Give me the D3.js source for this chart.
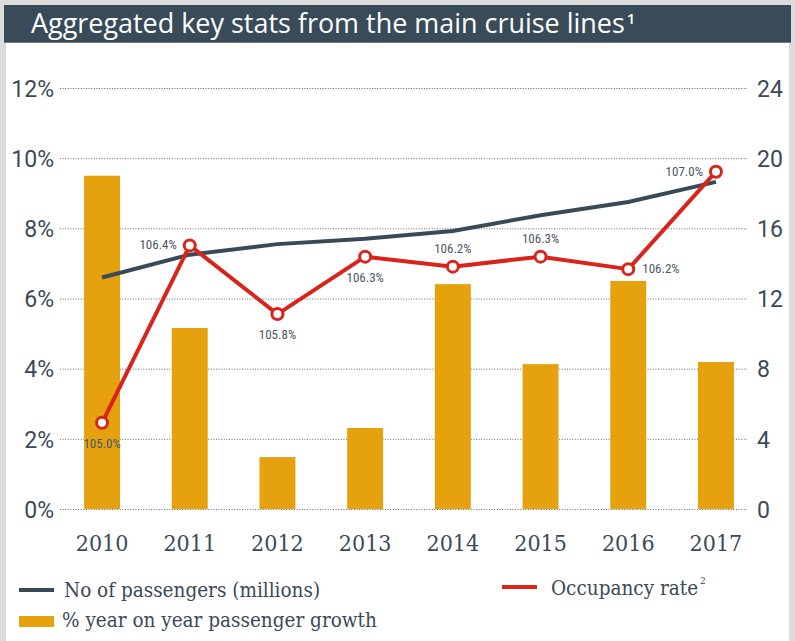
<!DOCTYPE html>
<html>
<head>
<meta charset="utf-8">
<script src="https://cdn.jsdelivr.net/npm/d3@7"></script>
<style>
  html, body { margin: 0; padding: 0; background: #dcdcdc; }
  svg { display: block; }
  .tick line { stroke: none; }
</style>
</head>
<body>
<svg id="chart" width="795" height="641"></svg>
<script>
// ---- Data ----
const years = ["2010", "2011", "2012", "2013", "2014", "2015", "2016", "2017"];
const growthPct = [9.5, 5.16, 1.48, 2.31, 6.41, 4.13, 6.5, 4.19];            // % year on year passenger growth (left axis)
const passengersM = [13.2, 14.5, 15.1, 15.4, 15.85, 16.75, 17.5, 18.65];     // No of passengers, millions (right axis)
const occupancy = [104.97, 106.39, 105.84, 106.30, 106.22, 106.30, 106.20, 106.98]; // Occupancy rate %
const occLabelSide = ["below", "left", "below", "below", "above", "above", "right", "left"];
const leftTicks = [0, 2, 4, 6, 8, 10, 12];
const rightTicks = [0, 4, 8, 12, 16, 20, 24];
const titleText = "Aggregated key stats from the main cruise lines";

// ---- Styles ----
const C = {
  bg: "#dcdcdc", panel: "#ffffff", bar: "#e5a20e", dark: "#384a58",
  red: "#d9241b", text: "#3a4a58", label: "#4b5866", grid: "#555"
};
const serif = "'DejaVu Serif Condensed', 'DejaVu Serif', serif";

const svg = d3.select("#chart");

// background panel and title bar
svg.append("rect").attr("x", 6).attr("y", 40).attr("width", 783).attr("height", 601).attr("fill", C.panel);
svg.append("rect").attr("x", 4).attr("y", 5).attr("width", 787).attr("height", 38).attr("fill", "#394b59");
svg.append("rect").attr("x", 4).attr("y", 42).attr("width", 787).attr("height", 1).attr("fill", "#6c7a86");

const title = svg.append("text")
  .attr("x", 31).attr("y", 33)
  .attr("fill", "#ffffff")
  .style("font-family", "'Open Sans', 'Noto Sans', sans-serif")
  .style("font-weight", 400)
  .style("font-size", "25px");
const tMain = title.append("tspan").text(titleText);
const w0 = tMain.node().getComputedTextLength();
const fs = 25 * 594 / w0;
title.style("font-size", fs.toFixed(2) + "px");
title.append("tspan").text("1").attr("dx", 2).attr("dy", -9).style("font-size", "15px").style("font-weight", 600);

// ---- Scales ----
const plotTop = 88, plotBottom = 509, gridX0 = 60, gridX1 = 747;
const x = d3.scaleBand().domain(years).range([58.2, 759.8]).paddingInner(0.59).paddingOuter(0.295);
const yL = d3.scaleLinear().domain([0, 12]).range([plotBottom, plotTop]);
const yR = d3.scaleLinear().domain([0, 24]).range([plotBottom, plotTop]);
const yO = d3.scaleLinear().domain([104.28, 107.65]).range([plotBottom, plotTop]);

// ---- Gridlines ----
const grid = svg.append("g").attr("transform", `translate(${gridX0},0)`)
  .call(d3.axisLeft(yL).tickValues(leftTicks).tickSize(-(gridX1 - gridX0)).tickFormat(""));
grid.select(".domain").remove();
grid.selectAll(".tick line").style("stroke", C.grid).attr("stroke-width", 1)
  .attr("stroke-dasharray", "1,1.6").attr("opacity", 0.9);

// ---- Axes ----
const axL = svg.append("g").attr("transform", `translate(${gridX0},0)`)
  .call(d3.axisLeft(yL).tickValues(leftTicks).tickSize(0).tickPadding(6).tickFormat(d => d + "%"));
axL.select(".domain").remove();
axL.selectAll("text").attr("fill", C.text).style("font-family", "Roboto, sans-serif").style("font-size", "23px").attr("dy", "0.36em");

const axR = svg.append("g").attr("transform", `translate(${gridX1},0)`)
  .call(d3.axisRight(yR).tickValues(rightTicks).tickSize(0).tickPadding(10));
axR.select(".domain").remove();
axR.selectAll("text").attr("fill", C.text).style("font-family", "Roboto, sans-serif").style("font-size", "23px").attr("dy", "0.36em");

// ---- Bars ----
svg.append("g").selectAll("rect").data(years).join("rect")
  .attr("x", d => x(d)).attr("width", x.bandwidth())
  .attr("y", (d, i) => yL(growthPct[i]))
  .attr("height", (d, i) => plotBottom - yL(growthPct[i]))
  .attr("fill", C.bar);

// ---- X axis ----
const axX = svg.append("g").attr("transform", `translate(0,${plotBottom})`)
  .call(d3.axisBottom(x).tickSize(0).tickPadding(26));
axX.select(".domain").remove();
axX.selectAll("text").attr("fill", C.text).style("font-family", serif).style("font-stretch", "condensed").style("font-size", "23px");

// ---- Passenger line ----
const cx = d => x(d) + x.bandwidth() / 2;
svg.append("path")
  .datum(years)
  .attr("fill", "none").attr("stroke", C.dark).attr("stroke-width", 4)
  .attr("d", d3.line().x(d => cx(d)).y((d, i) => yR(passengersM[i])));

// ---- Occupancy line ----
svg.append("path")
  .datum(years)
  .attr("fill", "none").attr("stroke", C.red).attr("stroke-width", 4).attr("stroke-linejoin", "round")
  .attr("d", d3.line().x(d => cx(d)).y((d, i) => yO(occupancy[i])));
svg.append("g").selectAll("circle").data(years).join("circle")
  .attr("cx", d => cx(d)).attr("cy", (d, i) => yO(occupancy[i]))
  .attr("r", 5.5).attr("fill", "#fff").attr("stroke", C.red).attr("stroke-width", 3);

const fmt = d3.format(".1f");
svg.append("g").selectAll("text").data(years).join("text")
  .text((d, i) => fmt(occupancy[i]) + "%")
  .attr("x", (d, i) => {
    const s = occLabelSide[i];
    return s === "left" ? cx(d) - 13 : s === "right" ? cx(d) + 14 : cx(d);
  })
  .attr("y", (d, i) => {
    const s = occLabelSide[i], cy = yO(occupancy[i]);
    return s === "below" ? cy + 25 : s === "above" ? cy - 13.5 : cy + 4;
  })
  .attr("text-anchor", (d, i) => {
    const s = occLabelSide[i];
    return s === "left" ? "end" : s === "right" ? "start" : "middle";
  })
  .attr("fill", C.label)
  .style("font-family", "'Liberation Sans Narrow', Roboto, sans-serif")
  .style("font-stretch", "condensed")
  .style("font-size", "13px");

// ---- Legend ----
const lg = svg.append("g");
lg.append("line").attr("x1", 19).attr("x2", 54).attr("y1", 590).attr("y2", 590).attr("stroke", C.dark).attr("stroke-width", 4);
lg.append("text").attr("x", 64).attr("y", 597).text("No of passengers (millions)");
lg.append("rect").attr("x", 19).attr("y", 616).attr("width", 35).attr("height", 11).attr("fill", C.bar);
lg.append("text").attr("x", 62).attr("y", 627).text("% year on year passenger growth");
lg.append("line").attr("x1", 502).attr("x2", 537).attr("y1", 587).attr("y2", 587).attr("stroke", C.red).attr("stroke-width", 4);
const occT = lg.append("text").attr("x", 551).attr("y", 595);
occT.append("tspan").text("Occupancy rate");
occT.append("tspan").text("2").attr("dx", 2).attr("dy", -11).style("font-size", "11px");
lg.selectAll("text").attr("fill", C.text).style("font-family", serif).style("font-stretch", "condensed").style("font-size", "20.5px");
occT.select("tspan:last-child").style("font-size", "10px");
</script>
</body>
</html>
